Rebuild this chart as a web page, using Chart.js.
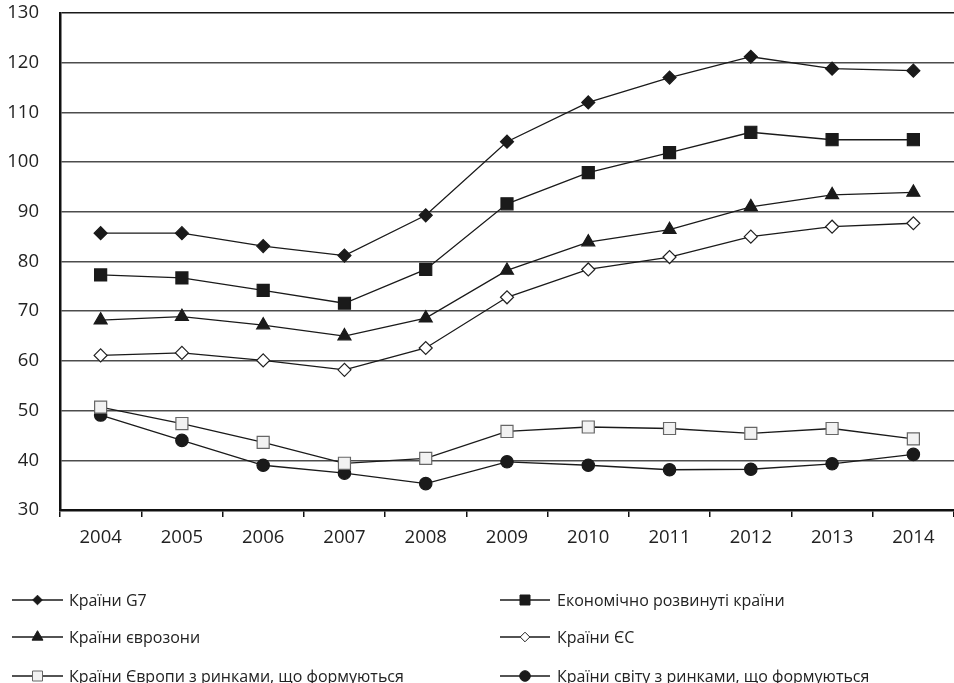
<!DOCTYPE html>
<html>
<head>
<meta charset="utf-8">
<script src="https://cdn.jsdelivr.net/npm/chart.js@4/dist/chart.umd.min.js"></script>
<style>
  html, body { margin: 0; padding: 0; background: #fff; }
  #wrap { width: 954px; height: 683px; }
</style>
</head>
<body>
<div id="wrap"><canvas id="c" width="954" height="683"></canvas></div>
<script>
const years = ['2004', '2005', '2006', '2007', '2008', '2009', '2010', '2011', '2012', '2013', '2014'];
const g7 = [85.7, 85.7, 83.1, 81.2, 89.3, 104.1, 112.0, 117.0, 121.2, 118.8, 118.4];
const developed = [77.3, 76.7, 74.2, 71.6, 78.4, 91.6, 97.9, 101.9, 106.0, 104.5, 104.5];
const eurozone = [68.2, 68.9, 67.2, 65.0, 68.6, 78.2, 83.9, 86.4, 91.0, 93.4, 93.9];
const eu = [61.1, 61.6, 60.1, 58.2, 62.6, 72.8, 78.4, 80.9, 85.0, 87.0, 87.7];
const europeEmerging = [50.7, 47.4, 43.6, 39.4, 40.4, 45.8, 46.7, 46.4, 45.4, 46.4, 44.3];
const worldEmerging = [49.1, 44.0, 39.0, 37.4, 35.3, 39.7, 39.0, 38.1, 38.2, 39.3, 41.2];
const seriesNames = [
  'Країни G7',
  'Економічно розвинуті країни',
  'Країни єврозони',
  'Країни ЄС',
  'Країни Європи з ринками, що формуються',
  'Країни світу з ринками, що формуються'
];

const INK = '#1a1a1a';
const FONT = "'Open Sans', 'DejaVu Sans', sans-serif";

function series(label, data, style, radius, fill, border) {
  return {
    label, data,
    borderColor: INK,
    borderWidth: 1.3,
    pointStyle: style,
    pointRadius: radius,
    pointHoverRadius: radius,
    pointBackgroundColor: fill,
    pointBorderColor: border,
    pointBorderWidth: 1.2,
    tension: 0,
    fill: false
  };
}

const datasets = [
  series(seriesNames[0], g7, 'rectRot', 6.5, INK, INK),
  series(seriesNames[1], developed, 'rect', 8.5, INK, INK),
  series(seriesNames[2], eurozone, 'triangle', 7.5, INK, INK),
  series(seriesNames[3], eu, 'rectRot', 6.5, '#ffffff', '#222'),
  series(seriesNames[4], europeEmerging, 'rect', 8.5, '#f2f2f2', '#666'),
  series(seriesNames[5], worldEmerging, 'circle', 6.2, INK, INK)
];

// small marker shapes for the two-column legend under the plot
function legendMarker(ctx, style, x, y, fill, stroke) {
  ctx.save();
  ctx.fillStyle = fill;
  ctx.strokeStyle = stroke;
  ctx.lineWidth = 1;
  ctx.beginPath();
  if (style === 'rectRot') {
    const r = 4.8;
    ctx.moveTo(x, y - r); ctx.lineTo(x + r, y); ctx.lineTo(x, y + r); ctx.lineTo(x - r, y); ctx.closePath();
  } else if (style === 'rect') {
    const s = 5;
    ctx.rect(x - s, y - s, 2 * s, 2 * s);
  } else if (style === 'triangle') {
    const r = 6.3;
    ctx.moveTo(x, y - r); ctx.lineTo(x + r * 0.87, y + r * 0.5); ctx.lineTo(x - r * 0.87, y + r * 0.5); ctx.closePath();
  } else {
    ctx.arc(x, y, 5.3, 0, Math.PI * 2);
  }
  ctx.fill();
  ctx.stroke();
  ctx.restore();
}

const gridLegend = {
  id: 'gridLegend',
  afterDraw(chart) {
    const ctx = chart.ctx;
    const cols = [{ x0: 12, x1: 63, tx: 69 }, { x0: 500, x1: 550, tx: 557 }];
    const rows = [600, 637, 676];
    chart.data.datasets.forEach((ds, i) => {
      const col = cols[i % 2];
      const y = rows[Math.floor(i / 2)];
      ctx.save();
      ctx.strokeStyle = INK;
      ctx.lineWidth = 1.3;
      ctx.beginPath();
      ctx.moveTo(col.x0, y);
      ctx.lineTo(col.x1, y);
      ctx.stroke();
      ctx.restore();
      legendMarker(ctx, ds.pointStyle, (col.x0 + col.x1) / 2, y, ds.pointBackgroundColor, ds.pointBorderColor);
      ctx.save();
      ctx.fillStyle = '#222';
      ctx.font = '16px ' + FONT;
      ctx.textBaseline = 'middle';
      ctx.textAlign = 'left';
      ctx.fillText(ds.label, col.tx, y + 1);
      ctx.restore();
    });
  }
};

new Chart(document.getElementById('c'), {
  type: 'line',
  data: { labels: years, datasets },
  options: {
    responsive: false,
    animation: false,
    events: [],
    layout: { autoPadding: false, padding: { top: 13, right: 0, bottom: 128, left: 0 } },
    plugins: { legend: { display: false }, tooltip: { enabled: false } },
    scales: {
      x: {
        offset: true,
        afterFit(scale) {
          scale.height = 45;
          scale.paddingLeft = 0;
          scale.paddingRight = 0;
        },
        grid: { offset: true, drawOnChartArea: false, drawTicks: true, tickLength: 7, color: '#111', lineWidth: 1.5 },
        border: { color: '#111', width: 2.5 },
        ticks: { color: '#222', font: { family: FONT, size: 18.5 }, padding: 10, maxRotation: 0 }
      },
      y: {
        min: 30, max: 130,
        afterFit(scale) {
          scale.width = 60;
          scale.paddingTop = 0;
          scale.paddingBottom = 0;
        },
        grid: {
          color: (c) => (c.tick && c.tick.value === 130 ? '#1a1a1a' : '#4d4d4d'),
          lineWidth: 1.6,
          drawTicks: false
        },
        border: { color: '#111', width: 2.5 },
        ticks: { stepSize: 10, color: '#222', font: { family: FONT, size: 18.5 }, padding: 21 }
      }
    }
  },
  plugins: [gridLegend]
});
</script>
</body>
</html>
